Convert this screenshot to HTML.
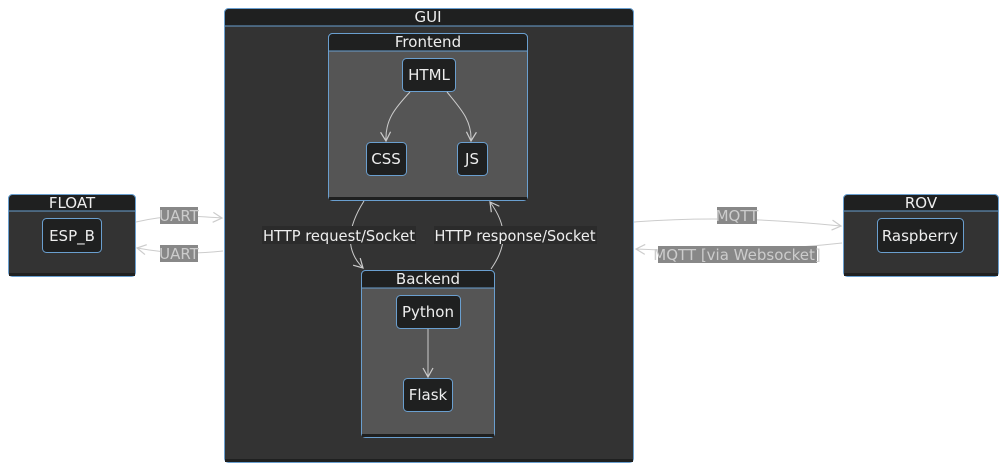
<!DOCTYPE html>
<html><head><style>
html,body{margin:0;padding:0;background:#fff;}
svg{display:block;font-family:"DejaVu Sans","Liberation Sans",sans-serif;}
text{fill:#eee;font-size:15px;text-anchor:middle;}
.l{fill:#ccc;}
.h{font-size:15px;}
</style></head><body>
<svg width="1007" height="471" viewBox="0 0 1007 471">
<defs>
<marker id="a" markerWidth="12" markerHeight="12" refX="10" refY="6" orient="auto" markerUnits="userSpaceOnUse">
<path d="M1,1 L10,6 L1,11" fill="none" stroke="#ccc" stroke-width="1.2"/></marker>
</defs>
<!-- GUI -->
<rect x="224.5" y="8.5" width="409" height="454" rx="4" fill="#333" stroke="#6a9fcf"/>
<path d="M224.5,26 V12.5 a4,4 0 0 1 4,-4 H629.5 a4,4 0 0 1 4,4 V26 Z" fill="#1f2020" stroke="#6a9fcf"/>
<rect x="225" y="459" width="408" height="3" fill="#1f2020"/>
<text x="428" y="22">GUI</text>
<!-- Frontend -->
<rect x="328.5" y="33.5" width="199" height="167" rx="4" fill="#555" stroke="#6a9fcf"/>
<path d="M328.5,51 V37.5 a4,4 0 0 1 4,-4 H523.5 a4,4 0 0 1 4,4 V51 Z" fill="#1f2020" stroke="#6a9fcf"/>
<rect x="329" y="197" width="198" height="3" fill="#1f2020"/>
<text x="428" y="47">Frontend</text>
<rect x="402.5" y="58.5" width="53" height="33" rx="4" fill="#1f2020" stroke="#6a9fcf"/><text x="429" y="80">HTML</text>
<rect x="366.5" y="142.5" width="40" height="33" rx="4" fill="#1f2020" stroke="#6a9fcf"/><text x="386" y="164">CSS</text>
<rect x="457.5" y="142.5" width="30" height="33" rx="4" fill="#1f2020" stroke="#6a9fcf"/><text x="472" y="164">JS</text>
<path d="M410,92 C395,108 385,120 386,141" fill="none" stroke="#ccc" marker-end="url(#a)"/>
<path d="M447,92 C460,108 472,120 471,141" fill="none" stroke="#ccc" marker-end="url(#a)"/>
<!-- Backend -->
<rect x="361.5" y="270.5" width="133" height="167" rx="4" fill="#555" stroke="#6a9fcf"/>
<path d="M361.5,288 V274.5 a4,4 0 0 1 4,-4 H490.5 a4,4 0 0 1 4,4 V288 Z" fill="#1f2020" stroke="#6a9fcf"/>
<rect x="362" y="434" width="132" height="3" fill="#1f2020"/>
<text x="428" y="284">Backend</text>
<rect x="396.5" y="295.5" width="64" height="33" rx="4" fill="#1f2020" stroke="#6a9fcf"/><text x="428" y="317">Python</text>
<rect x="403.5" y="378.5" width="49" height="33" rx="4" fill="#1f2020" stroke="#6a9fcf"/><text x="428" y="400">Flask</text>
<line x1="428" y1="329" x2="428" y2="377" stroke="#ccc" marker-end="url(#a)"/>
<!-- HTTP arrows -->
<path d="M364,201 C347,228 345,250 363,268" fill="none" stroke="#ccc" marker-end="url(#a)"/>
<path d="M491,269 C508,245 507,225 490,202" fill="none" stroke="#ccc" marker-end="url(#a)"/>
<rect x="262" y="226" width="154" height="18" fill="#2b2b2b"/><text class="h" x="339" y="241" textLength="152" lengthAdjust="spacingAndGlyphs">HTTP request/Socket</text>
<rect x="434" y="226" width="163" height="18" fill="#2b2b2b"/><text class="h" x="515" y="241" textLength="161" lengthAdjust="spacingAndGlyphs">HTTP response/Socket</text>
<!-- FLOAT -->
<rect x="8.5" y="194.5" width="127" height="82" rx="4" fill="#333" stroke="#6a9fcf"/>
<path d="M8.5,211 V198.5 a4,4 0 0 1 4,-4 H131.5 a4,4 0 0 1 4,4 V211 Z" fill="#1f2020" stroke="#6a9fcf"/>
<rect x="9" y="273" width="126" height="3" fill="#1f2020"/>
<text x="72" y="208">FLOAT</text>
<rect x="42.5" y="218.5" width="59" height="34" rx="4" fill="#1f2020" stroke="#6a9fcf"/><text x="72" y="241">ESP_B</text>
<!-- ROV -->
<rect x="843.5" y="194.5" width="155" height="82" rx="4" fill="#333" stroke="#6a9fcf"/>
<path d="M843.5,211 V198.5 a4,4 0 0 1 4,-4 H994.5 a4,4 0 0 1 4,4 V211 Z" fill="#1f2020" stroke="#6a9fcf"/>
<rect x="844" y="273" width="154" height="3" fill="#1f2020"/>
<text x="921" y="208">ROV</text>
<rect x="877.5" y="218.5" width="86" height="34" rx="4" fill="#1f2020" stroke="#6a9fcf"/><text x="920" y="241">Raspberry</text>
<!-- UART -->
<path d="M136,222 C170,214 195,216 222,218" fill="none" stroke="#ccc" marker-end="url(#a)"/>
<path d="M223,251 C195,254 170,254 137,248" fill="none" stroke="#ccc" marker-end="url(#a)"/>
<rect x="160" y="207" width="38" height="17" fill="#888"/><text class="l" x="179" y="221">UART</text>
<rect x="160" y="245" width="38" height="17" fill="#888"/><text class="l" x="179" y="259">UART</text>
<!-- MQTT -->
<path d="M634,222 C700,217 760,218 841,226" fill="none" stroke="#ccc" marker-end="url(#a)"/>
<path d="M842,243 C760,252 700,252 636,249" fill="none" stroke="#ccc" marker-end="url(#a)"/>
<rect x="717" y="207" width="40" height="17" fill="#888"/><text class="l" x="737" y="221">MQTT</text>
<rect x="658" y="246" width="159" height="17" fill="#888"/><text class="l" x="737" y="260">MQTT [via Websocket]</text>
</svg>
</body></html>
